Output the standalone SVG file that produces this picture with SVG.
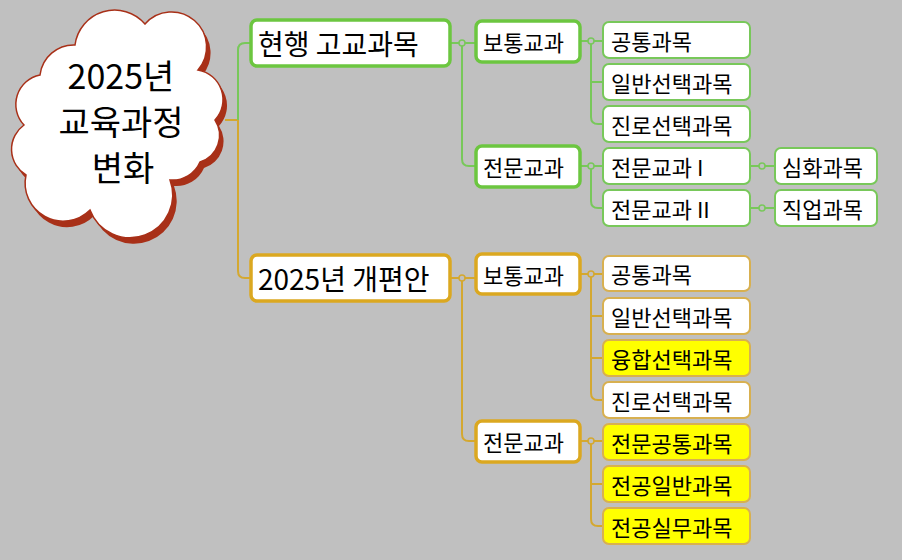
<svg xmlns="http://www.w3.org/2000/svg" width="902" height="560" viewBox="0 0 902 560">
<style>
text{font-family:"Noto Sans CJK KR","Malgun Gothic",sans-serif;fill:#000;dominant-baseline:central}
.g{fill:#fff;stroke:#78c85a;stroke-width:2}
.gb{fill:#fff;stroke:#6cc640;stroke-width:3.5}
.o{fill:#fff;stroke:#d8b050;stroke-width:2}
.ob{fill:#fff;stroke:#dba820;stroke-width:3.5}
.y{fill:#ffff00;stroke:#d8b050;stroke-width:2}
.lg{fill:none;stroke:#78c85a;stroke-width:2}
.lo{fill:none;stroke:#d4a830;stroke-width:2}
.t1{font-size:28px}.t2{font-size:22px}.t0{font-size:34px}
</style>
<rect width="902" height="560" fill="#c0c0c0"/>
<g id="connectors">
<path class="lo" d="M225 120H238"/>
<path class="lg" d="M238 120V50Q238 43 245 43H251"/>
<path class="lo" d="M238 120V271Q238 278 245 278H251"/>
<path class="lg" d="M450 43H476M462 43V159Q462 166 469 166H476"/>
<circle cx="462" cy="43" r="3" fill="#c0c0c0" stroke="#78c85a" stroke-width="1.5"/>
<path class="lo" d="M450 278H476M462 278V434Q462 441 469 441H476"/>
<circle cx="462" cy="278" r="3" fill="#c0c0c0" stroke="#d4a830" stroke-width="1.5"/>
<path class="lg" d="M580 41H603M591 41V117Q591 124 598 124H603M591 82H603"/>
<circle cx="591" cy="41" r="3" fill="#c0c0c0" stroke="#78c85a" stroke-width="1.5"/>
<path class="lg" d="M580 166H603M591 166V201Q591 208 598 208H603"/>
<circle cx="591" cy="166" r="3" fill="#c0c0c0" stroke="#78c85a" stroke-width="1.5"/>
<path class="lg" d="M750 166H775M750 208H775"/>
<circle cx="762" cy="166" r="3" fill="#c0c0c0" stroke="#78c85a" stroke-width="1.5"/>
<circle cx="762" cy="208" r="3" fill="#c0c0c0" stroke="#78c85a" stroke-width="1.5"/>
<path class="lo" d="M580 274H603M591 274V393Q591 400 598 400H603M591 316H603M591 358H603"/>
<circle cx="591" cy="274" r="3" fill="#c0c0c0" stroke="#d4a830" stroke-width="1.5"/>
<path class="lo" d="M580 441H603M591 441V519Q591 526 598 526H603M591 484H603"/>
<circle cx="591" cy="441" r="3" fill="#c0c0c0" stroke="#d4a830" stroke-width="1.5"/>
</g>
<g id="root">
<path transform="translate(4,6)" fill="#a83018" d="M40 75A34 34 0 0 1 75 45A40 40 0 0 1 145 24A32 32 0 0 1 198 70A30 30 0 0 1 215 120A28 28 0 0 1 200 162A30 30 0 0 1 170 180A40 40 0 0 1 90 210A38 38 0 0 1 26 175A30 30 0 0 1 24 125A30 30 0 0 1 40 75Z"/>
<path fill="#fff" stroke="#a83018" stroke-width="1.5" d="M40 75A34 34 0 0 1 75 45A40 40 0 0 1 145 24A32 32 0 0 1 198 70A30 30 0 0 1 215 120A28 28 0 0 1 200 162A30 30 0 0 1 170 180A40 40 0 0 1 90 210A38 38 0 0 1 26 175A30 30 0 0 1 24 125A30 30 0 0 1 40 75Z"/>
<text class="t0" x="121" y="74" text-anchor="middle">2025년</text>
<text class="t0" x="121" y="120" text-anchor="middle">교육과정</text>
<text class="t0" x="123" y="166" text-anchor="middle">변화</text>
</g>
<g id="n1"><rect class="gb" x="251" y="20" width="199" height="46" rx="6"/><text class="t1" x="258" y="43">현행 고교과목</text></g>
<g id="n2"><rect class="ob" x="251" y="255" width="199" height="46" rx="6"/><text class="t1" x="258" y="278">2025년 개편안</text></g>
<g id="n3"><rect class="gb" x="476" y="21" width="104" height="41" rx="6"/><text class="t2" x="483" y="41">보통교과</text></g>
<g id="n4"><rect class="gb" x="476" y="146" width="104" height="41" rx="6"/><text class="t2" x="483" y="166">전문교과</text></g>
<g id="n5"><rect class="ob" x="476" y="254" width="104" height="40" rx="6"/><text class="t2" x="483" y="274">보통교과</text></g>
<g id="n6"><rect class="ob" x="476" y="421" width="104" height="41" rx="6"/><text class="t2" x="483" y="441">전문교과</text></g>
<g id="n7"><rect class="g" x="603" y="22" width="147" height="36" rx="6"/><text class="t2" x="611" y="40">공통과목</text></g>
<g id="n8"><rect class="g" x="603" y="64" width="147" height="36" rx="6"/><text class="t2" x="611" y="82">일반선택과목</text></g>
<g id="n9"><rect class="g" x="603" y="106" width="147" height="36" rx="6"/><text class="t2" x="611" y="124">진로선택과목</text></g>
<g id="n10"><rect class="g" x="603" y="148" width="147" height="36" rx="6"/><text class="t2" x="611" y="166">전문교과 I</text></g>
<g id="n11"><rect class="g" x="603" y="190" width="147" height="36" rx="6"/><text class="t2" x="611" y="208">전문교과 II</text></g>
<g id="n12"><rect class="g" x="775" y="148" width="102" height="36" rx="6"/><text class="t2" x="782" y="166">심화과목</text></g>
<g id="n13"><rect class="g" x="775" y="190" width="102" height="36" rx="6"/><text class="t2" x="782" y="208">직업과목</text></g>
<g id="n14"><rect class="o" x="603" y="256" width="147" height="35" rx="6"/><text class="t2" x="611" y="273">공통과목</text></g>
<g id="n15"><rect class="o" x="603" y="298" width="147" height="36" rx="6"/><text class="t2" x="611" y="316">일반선택과목</text></g>
<g id="n16"><rect class="y" x="603" y="340" width="147" height="36" rx="6"/><text class="t2" x="611" y="358">융합선택과목</text></g>
<g id="n17"><rect class="o" x="603" y="382" width="147" height="36" rx="6"/><text class="t2" x="611" y="400">진로선택과목</text></g>
<g id="n18"><rect class="y" x="603" y="424" width="147" height="36" rx="6"/><text class="t2" x="611" y="442">전문공통과목</text></g>
<g id="n19"><rect class="y" x="603" y="466" width="147" height="36" rx="6"/><text class="t2" x="611" y="484">전공일반과목</text></g>
<g id="n20"><rect class="y" x="603" y="508" width="147" height="36" rx="6"/><text class="t2" x="611" y="526">전공실무과목</text></g>
</svg>
